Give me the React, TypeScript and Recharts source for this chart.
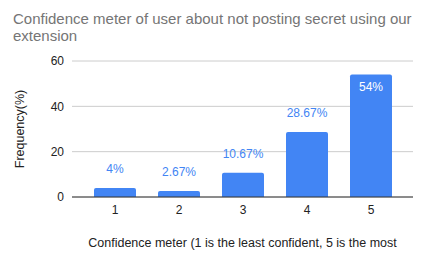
import { BarChart, Bar, XAxis, YAxis, CartesianGrid, LabelList, Label } from 'recharts';

const categories = ['1', '2', '3', '4', '5'];
const frequency = [4, 2.67, 10.67, 28.67, 54];
const yTicks = [0, 20, 40, 60];

const titleLines = ['Confidence meter of user about not posting secret using our', 'extension'];
const xTitle = 'Confidence meter (1 is the least confident, 5 is the most';
const yTitle = 'Frequency(%)';

const data = categories.map((c, i) => ({ name: c, value: frequency[i] }));

const FONT = 'Arial, "Liberation Sans", sans-serif';
const BLUE = '#4285f4';

const ValueLabel = (props: any) => {
  const { x, y, width, value } = props;
  // tall bars get the label inside, in white
  const inside = y < 90;
  return (
    <text
      x={x + width / 2}
      y={inside ? y + 12 : y - 19}
      textAnchor="middle"
      dominantBaseline="central"
      fontSize={12}
      fontFamily={FONT}
      fill={inside ? '#ffffff' : BLUE}
    >
      {`${value}%`}
    </text>
  );
};

export default function App() {
  return (
    <div style={{ position: 'fixed', left: 0, top: 0, width: 427, height: 263, background: '#fff', fontFamily: FONT }}>
      <div style={{ position: 'absolute', left: 13, top: 11, color: '#757575', fontSize: 15, lineHeight: '16.5px', whiteSpace: 'nowrap' }}>
        {titleLines.map((l) => (
          <div key={l}>{l}</div>
        ))}
      </div>
      <BarChart width={427} height={263} data={data} margin={{ top: 61, right: 14, bottom: 0, left: 0 }} barSize={42}>
        <CartesianGrid vertical={false} stroke="#cccccc" />
        <XAxis
          dataKey="name"
          height={66}
          padding={{ left: 11, right: 10 }}
          tickLine={false}
          tickSize={0}
          tickMargin={8}
          axisLine={{ stroke: '#333333' }}
          tick={{ fill: '#222222', fontSize: 12, fontFamily: FONT }}
        >
          <Label value={xTitle} position="insideBottom" offset={16} fill="#222222" fontSize={12.5} fontFamily={FONT} />
        </XAxis>
        <YAxis
          width={72}
          domain={[0, 60]}
          ticks={yTicks}
          tickLine={false}
          axisLine={false}
          tickSize={0}
          tickMargin={8}
          tick={{ fill: '#222222', fontSize: 12, fontFamily: FONT }}
        >
          <Label value={yTitle} angle={-90} position="insideLeft" offset={20} fill="#222222" fontSize={12.5} fontFamily={FONT} style={{ textAnchor: 'middle' }} />
        </YAxis>
        <Bar dataKey="value" fill={BLUE} radius={[2, 2, 0, 0]} isAnimationActive={false}>
          <LabelList dataKey="value" content={ValueLabel} />
        </Bar>
      </BarChart>
    </div>
  );
}
